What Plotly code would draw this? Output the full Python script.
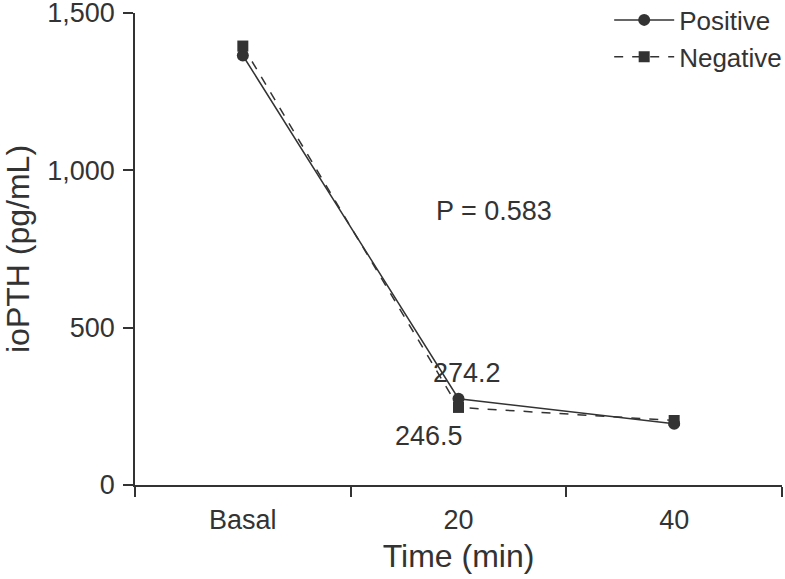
import plotly.graph_objects as go

times = ["Basal", "20", "40"]
positive = [1365, 274.2, 195]
negative = [1395, 246.5, 205]
y_ticks = [0, 500, 1000, 1500]

ink = "#333333"
font = dict(family="Liberation Sans, Arial, sans-serif", size=27, color=ink)

fig = go.Figure()
fig.add_trace(go.Scatter(x=times, y=positive, name="Positive", mode="lines+markers",
                         line=dict(color=ink, width=1.5),
                         marker=dict(symbol="circle", size=12, color=ink)))
fig.add_trace(go.Scatter(x=times, y=negative, name="Negative", mode="lines+markers",
                         line=dict(color=ink, width=1.5, dash="dash"),
                         marker=dict(symbol="square", size=11, color=ink)))

fig.add_annotation(x=1.165, y=871, text="P = 0.583", showarrow=False, font=font)
fig.add_annotation(x=1, y=positive[1], text="274.2", showarrow=False, font=font,
                   xshift=8, yshift=26)
fig.add_annotation(x=1, y=negative[1], text="246.5", showarrow=False, font=font,
                   xshift=-30, yshift=-29)

fig.update_layout(
    width=785, height=579,
    margin=dict(l=135, r=3, t=13, b=94, autoexpand=False),
    plot_bgcolor="white", paper_bgcolor="white",
    font=font,
    showlegend=True,
    legend=dict(x=1.008, y=1.035, xanchor="right", yanchor="top", bgcolor="rgba(0,0,0,0)",
                font=dict(size=26), tracegroupgap=0, itemwidth=60),
)
fig.update_xaxes(type="category", range=[-0.5, 2.5], showline=True, linecolor=ink, linewidth=1.5,
                 ticks="outside", tickson="boundaries", ticklen=10, tickcolor=ink, tickwidth=1.5,
                 ticklabelstandoff=10,
                 showgrid=False, title=dict(text="Time (min)", standoff=10), zeroline=False)
fig.update_yaxes(range=[0, 1500], tickvals=y_ticks, tickformat=",", showline=True, linecolor=ink,
                 linewidth=1.5, ticks="outside", ticklen=10, tickcolor=ink, tickwidth=1.5,
                 ticklabelstandoff=3, ticklabeloverflow="allow",
                 showgrid=False, zeroline=False, title=dict(text="ioPTH (pg/mL)", standoff=28))

# drop the default 8px body margin so the figure sits at the page corner
fig.write_html("out.html", config={"displayModeBar": False},
               post_script="document.body.style.margin = '0';")
